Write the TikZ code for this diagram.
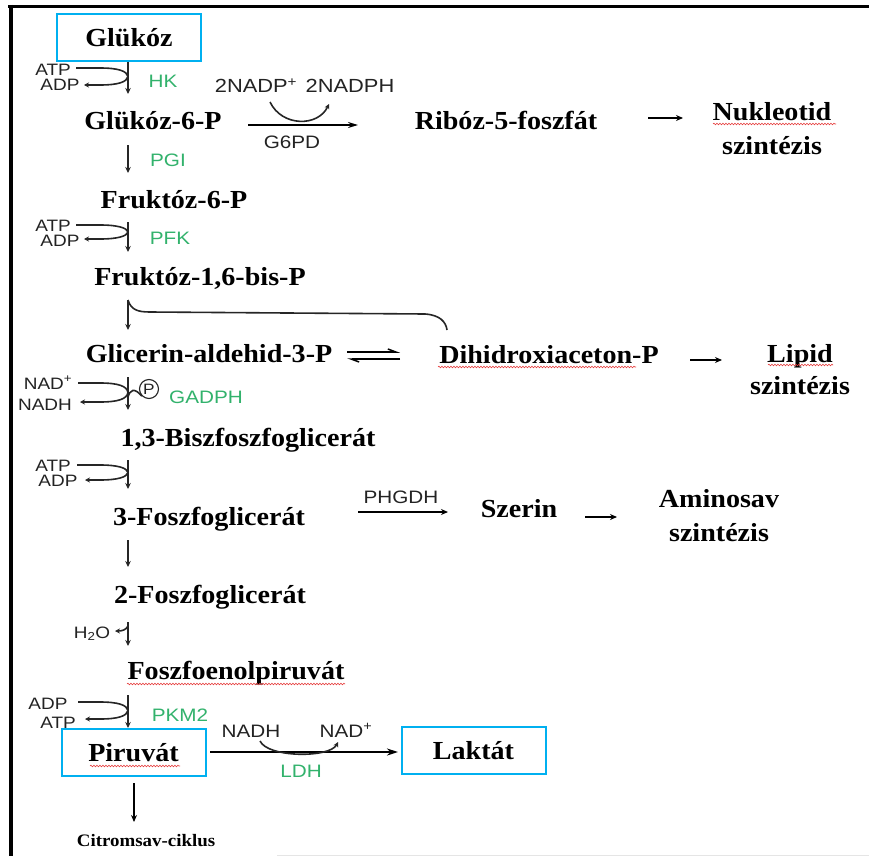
\documentclass[tikz,border=0pt]{standalone}
\usepackage{fontspec}
\setmainfont{Liberation Serif}[FakeStretch=1.08]
\newfontfamily\lblsans{Liberation Sans}[FakeStretch=1.15]
\usetikzlibrary{arrows.meta,decorations.pathmorphing}
\definecolor{boxcyan}{RGB}{0,176,240}
\definecolor{enzgreen}{RGB}{50,178,108}
\definecolor{cofgray}{RGB}{35,35,35}
\definecolor{wavyred}{RGB}{230,60,60}
\newcommand\cofloop[5]{%
  \coordinate (#1-a) at (#4,#2);
  \coordinate (#1-m) at (128,{(#2+#3)/2});
  \coordinate (#1-b) at (#5,#3);
  \draw[cfl] (#1-a) -- (100,#2) .. controls (118,#2) and (127,{#2+3}) .. (#1-m);
  \draw[cfa] (#1-m) .. controls (127,{#3-3}) and (118,#3) .. (100,#3) -- (#1-b);}
\begin{document}
\begin{tikzpicture}[x=1pt,y=-1pt,
  lab/.style={font=\fontsize{26}{30}\selectfont\bfseries, inner sep=0pt, anchor=base},
  box/.style={draw=boxcyan, line width=2pt, minimum width=144pt, minimum height=47pt, inner sep=0pt, font=\fontsize{26}{30}\selectfont\bfseries},
  cof/.style={font=\lblsans\fontsize{16.5}{18}\selectfont, text=cofgray, inner sep=0pt, anchor=base},
  enz/.style={font=\lblsans\fontsize{18}{20}\selectfont, text=enzgreen, inner sep=0pt, anchor=base},
  rx/.style={line width=1.8pt, draw=black!85, -{Stealth[length=6pt,width=5.5pt]}},
  cfl/.style={line width=1.6pt, draw=black!85},
  cfa/.style={cfl, -{Stealth[length=5pt,width=5pt]}},
  bigarr/.style={line width=2.4pt, -{Stealth[length=7pt,width=6pt]}},
  wavy/.style={draw=wavyred, line width=0.6pt, decorate, decoration={snake, amplitude=0.8pt, segment length=3pt}},
]
\useasboundingbox (0,0) rectangle (869,856);
\fill[white] (0,0) rectangle (869,856);
% frame
\draw[line width=3pt] (8,6.5) -- (869,6.5);
\draw[line width=4pt] (10.5,5) -- (10.5,856);
\draw[black!10, line width=1pt] (277,855) -- (869,855);

% main metabolites
\node[box] (glu) at (129,37.5) {Glükóz};
\node[lab] (g6p) at (153,129) {Glükóz-6-P};
\node[lab] (r5p) at (506,129) {Ribóz-5-foszfát};
\node[lab] (nuk) at (772,121) {Nukleotid};
\node[lab] (nuksz) at (772,154) {szintézis};
\node[lab] (f6p) at (174,208) {Fruktóz-6-P};
\node[lab] (fbp) at (200,285) {Fruktóz-1,6-bis-P};
\node[lab] (gap) at (209,362) {Glicerin-aldehid-3-P};
\node[lab] (dhap) at (549,363) {Dihidroxiaceton-P};
\node[lab] (lip) at (800,362) {Lipid};
\node[lab] (lipsz) at (800,394) {szintézis};
\node[lab] (bpg) at (248,446) {1,3-Biszfoszfoglicerát};
\node[lab] (pg3) at (209,525) {3-Foszfoglicerát};
\node[lab] (ser) at (519,517) {Szerin};
\node[lab] (ami) at (719,507) {Aminosav};
\node[lab] (amisz) at (719,541) {szintézis};
\node[lab] (pg2) at (210,603) {2-Foszfoglicerát};
\node[lab] (pep) at (236,679) {Foszfoenolpiruvát};
\node[box] (pyr) at (133.5,752.5) {Piruvát};
\node[box] (lac) at (473.5,750.5) {Laktát};
\node[lab, font=\fontsize{17.5}{20}\selectfont\bfseries] (tca) at (146,846) {Citromsav-ciklus};

% spell-check underlines
\draw[wavy] (713,124) -- (836,124);
\draw[wavy] (438,367) -- (636,367);
\draw[wavy] (768,365) -- (833,365);
\draw[wavy] (127,684) -- (345,684);
\draw[wavy] (90,766) -- (180,766);

% cofactor labels
\node[cof] (atp1) at (53,76) {ATP};
\node[cof] (adp1) at (60,91) {ADP};
\node[cof] (atp2) at (53,231) {ATP};
\node[cof] (adp2) at (60,246) {ADP};
\node[cof] (nad1) at (48,389) {NAD\textsuperscript{+}};
\node[cof] (nadh1) at (45,410) {NADH};
\node[cof] (atp3) at (53,471) {ATP};
\node[cof] (adp3) at (58,486) {ADP};
\node[cof] (h2o) at (92,638) {H\textsubscript{2}O};
\node[cof] (adp4) at (48,709) {ADP};
\node[cof] (atp4) at (58,728) {ATP};
\node[cof, font=\lblsans\fontsize{19}{21}\selectfont] (nadp) at (256,93) {2NADP\textsuperscript{+}};
\node[cof, font=\lblsans\fontsize{19}{21}\selectfont] (nadph) at (350,93) {2NADPH};
\node[cof, font=\lblsans\fontsize{18}{20}\selectfont] (g6pd) at (292,148) {G6PD};
\node[cof, font=\lblsans\fontsize{18}{20}\selectfont] (phgdh) at (401,503) {PHGDH};
\node[cof, font=\lblsans\fontsize{18}{20}\selectfont] (nadh2) at (251,737) {NADH};
\node[cof, font=\lblsans\fontsize{18}{20}\selectfont] (nad2) at (346,737) {NAD\textsuperscript{+}};
\node[draw=cofgray, circle, line width=1.1pt, minimum size=19pt, inner sep=0pt, text=cofgray, font=\lblsans\fontsize{15}{15}\selectfont] (pcirc) at (149,389) {P};

% enzymes
\node[enz] (hk) at (163,88) {HK};
\node[enz] (pgi) at (168,166) {PGI};
\node[enz] (pfk) at (170,244) {PFK};
\node[enz] (gadph) at (206,403) {GADPH};
\node[enz] (pkm) at (180,721) {PKM2};
\node[enz] (ldh) at (301,777) {LDH};

% vertical glycolysis steps
\coordinate (s1a) at (128,62);  \coordinate (s1b) at (128,94);
\coordinate (s2a) at (128,145); \coordinate (s2b) at (128,173);
\coordinate (s3a) at (128,222); \coordinate (s3b) at (128,252);
\coordinate (s4a) at (128,300); \coordinate (s4b) at (128,330);
\coordinate (s5a) at (128,377); \coordinate (s5b) at (128,410);
\coordinate (s6a) at (128,460); \coordinate (s6b) at (128,489);
\coordinate (s7a) at (128,540); \coordinate (s7b) at (128,567);
\coordinate (s8a) at (128,622); \coordinate (s8b) at (128,646);
\coordinate (s9a) at (128,695); \coordinate (s9b) at (128,728);
\coordinate (s10a) at (134,783); \coordinate (s10b) at (134,822);
\foreach \s in {1,...,9} {\draw[rx] (s\s a) -- (s\s b);}
\draw[line width=2pt, -{Stealth[length=7pt,width=6pt]}] (s10a) -- (s10b);

% cofactor loops
\cofloop{hk}{68}{85}{76}{84}
\cofloop{pfk}{225}{239}{76}{84}
\cofloop{gd}{383}{402}{78}{80}
\cofloop{pgk}{465}{480}{77}{85}
\cofloop{pk}{702}{719}{78}{85}
% phosphate branch
\draw[cfl] (128,397) .. controls (130,390) and (134,387) .. (pcirc.south west);
% water
\draw[cfa] (128,626) .. controls (126,630) and (122,631) .. (115,631);

% aldolase split
\coordinate (ald-e) at (447,330);
\draw[cfl] (s4a) .. controls (131,310) and (138,312) .. (150,312) -- (425,314) .. controls (440,315) and (446,322) .. (ald-e);
% isomerase
\draw[line width=1.5pt, -{Straight Barb[harpoon,length=8pt,width=6pt]}] (347,352) -- (400,352);
\draw[line width=1.5pt, -{Straight Barb[harpoon,length=8pt,width=6pt]}] (400,359) -- (347,359);

% G6PD
\coordinate (g6a) at (248,125); \coordinate (g6b) at (358,125);
\draw[line width=1.6pt, -{Stealth[length=10pt,width=6pt]}] (g6a) -- (g6b);
\draw[cfa] (270,102) .. controls (282,127) and (318,127) .. (329,104);
% LDH
\coordinate (ldha) at (210,752); \coordinate (ldhb) at (398,752);
\draw[line width=2pt, -{Stealth[length=11pt,width=7pt]}] (ldha) -- (ldhb);
\draw[cfa] (260,741) .. controls (268,758) and (330,758) .. (338,742);
% PHGDH
\coordinate (pha) at (358,512); \coordinate (phb) at (448,512);
\draw[line width=1.6pt, -{Stealth[length=7pt,width=6pt]}] (pha) -- (phb);

% outputs
\coordinate (o1a) at (648,118); \coordinate (o1b) at (683,118);
\coordinate (o2a) at (690,360); \coordinate (o2b) at (722,360);
\coordinate (o3a) at (585,517); \coordinate (o3b) at (617,517);
\draw[bigarr] (o1a) -- (o1b);
\draw[bigarr] (o2a) -- (o2b);
\draw[bigarr] (o3a) -- (o3b);
\end{tikzpicture}
\end{document}
